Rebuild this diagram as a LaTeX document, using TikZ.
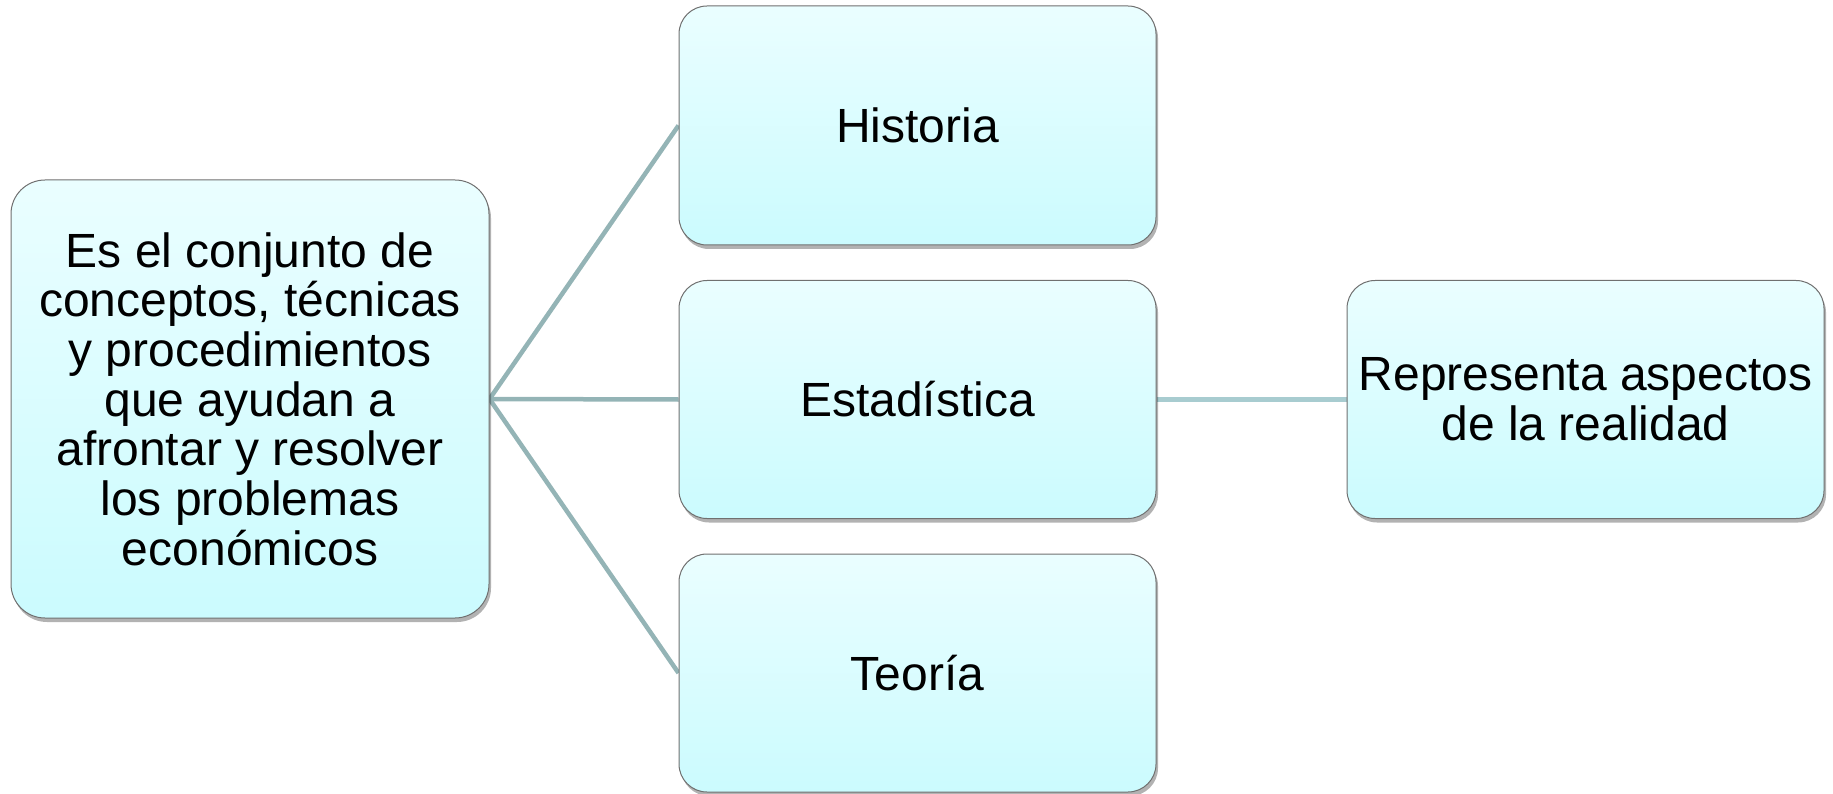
\documentclass[tikz,border=0pt]{standalone}
\usepackage{fontspec}
\setmainfont{Liberation Sans}
\usetikzlibrary{shadows,backgrounds}
\definecolor{topc}{HTML}{EAFEFF}
\definecolor{botc}{HTML}{CBFBFE}
\definecolor{edgec}{HTML}{707070}
\definecolor{linkc}{HTML}{94B4B6}
\definecolor{linkcb}{HTML}{A8CCD0}
\begin{document}
\begin{tikzpicture}[x=1pt,y=-1pt,
  box/.style={draw=edgec, line width=1pt, rounded corners=28pt,
    top color=topc, bottom color=botc, align=center,
    font=\fontsize{48}{49.7}\selectfont, inner sep=0pt,
    drop shadow={shadow xshift=2pt, shadow yshift=-4pt, fill=black, opacity=0.3}},
  link/.style={draw=linkc, line width=4.5pt},
  linkb/.style={draw=linkcb, line width=4.5pt}]
\useasboundingbox (0,0) rectangle (1833,794);
\node[box, minimum width=478pt, minimum height=438pt, rounded corners=34pt] (main) at (250,399)
  {Es el conjunto de\\conceptos, técnicas\\y procedimientos\\que ayudan a\\afrontar y resolver\\los problemas\\económicos};
\node[box, minimum width=477pt, minimum height=239pt] (hist) at (917.5,125.5) {Historia};
\node[box, minimum width=477pt, minimum height=238pt] (est) at (917.5,399.5) {Estadística};
\node[box, minimum width=477pt, minimum height=238pt] (teo) at (917.5,673) {Teoría};
\node[box, minimum width=477pt, minimum height=238pt] (rep) at (1585.5,399.5) {Representa aspectos\\de la realidad};
\begin{scope}[on background layer]
\draw[link] (main.east) -- (hist.west);
\draw[link] (main.east) -- (est.west);
\draw[link] (main.east) -- (teo.west);
\draw[linkb] (est.east) -- (rep.west);
\end{scope}
\end{tikzpicture}
\end{document}
